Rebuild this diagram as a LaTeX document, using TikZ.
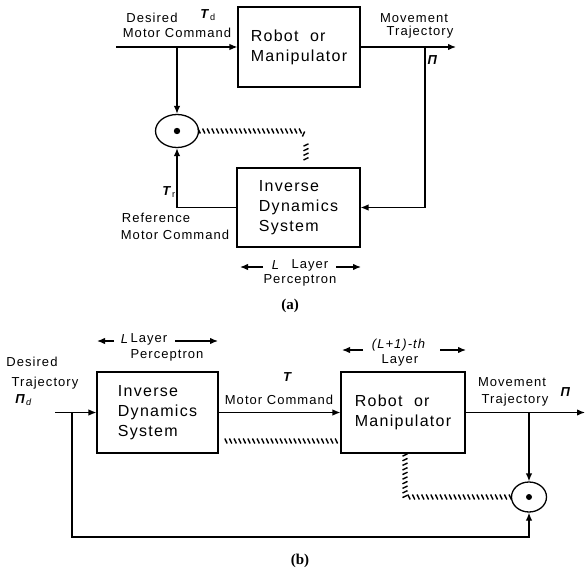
\documentclass[tikz,border=0pt]{standalone}
\usepackage{fontspec}
\setmainfont[LetterSpace=8]{Liberation Sans}
\newfontfamily\capfont{Liberation Serif}
\usetikzlibrary{arrows.meta,decorations.markings,shapes.geometric}
\begin{document}
\begin{tikzpicture}[x=1pt,y=-1pt,
  box/.style={draw, line width=1.1pt, inner sep=0pt, align=left, font=\fontsize{16}{20}\selectfont},
  sum/.style={draw, ellipse, line width=1.3pt, inner sep=0pt},
  lbl/.style={inner sep=0pt, font=\fontsize{13}{15}\selectfont},
  conn/.style={line width=1.3pt},
  arr/.style={conn, -{Latex[length=8pt,width=6.5pt]}},
  hatch/.style={postaction={decorate}, decoration={markings,
     mark=between positions 0 and 1 step 4.6pt with {\draw[line width=1.4pt] (1.2pt,-2.5pt) -- (-1.2pt,2.5pt);}}},
  captxt/.style={inner sep=0pt, font=\capfont\bfseries\fontsize{15}{17}\selectfont}
]
\useasboundingbox (0,0) rectangle (586,572);

% ---------- (a) ----------
\node[box, minimum width=122pt, minimum height=80pt] (ra) at (299,47) {Robot\ \ or\\Manipulator};
\node[box, minimum width=123pt, minimum height=79pt] (ia) at (298.5,207.5) {Inverse\\Dynamics\\System};
\node[sum, minimum width=43pt, minimum height=33pt] (ea) at (177,131) {};
\fill (ea.center) circle (3.2pt);

\coordinate (ina) at (116,47);
\coordinate (outa) at (456,47);
\coordinate (ja) at (177,47);
\coordinate (ka) at (425,47);
\draw[arr] (ina) -- (ra.west);
\draw[arr] (ra.east) -- (outa);
\draw[arr] (ja) -- (ea.north);
\draw[arr] (ka) |- (ia.east);
\draw[arr] (ia.west) -| (ea.south);

\coordinate (ha1) at (301,131);
\coordinate (ha2) at (306,137);
\coordinate (ha3) at (306,145);
\coordinate (ha4) at (306,160);
\path[hatch] (ea.east) -- (ha1) -- (ha2);
\path[hatch] (ha3) -- (ha4);

\node[lbl] (d1) at (152,18) {Desired};
\node[lbl] (d2) at (177,33) {Motor Command};
\node[lbl] (td) at (208,15) {\textbf{\textit{T}}\textsubscript{d}};
\node[lbl] (m1) at (414,18) {Movement};
\node[lbl] (m2) at (420,32) {Trajectory};
\node[lbl] (pa) at (433,60) {\textbf{\textit{Π}}};
\node[lbl] (tr) at (169,192) {\textbf{\textit{T}}\textsubscript{r}};
\node[lbl] (r1) at (156,218) {Reference};
\node[lbl] (r2) at (175,235) {Motor Command};

\coordinate (la1) at (263,267);
\coordinate (la2) at (240,267);
\coordinate (la3) at (336,267);
\coordinate (la4) at (361,267);
\draw[arr] (la1) -- (la2);
\draw[arr] (la3) -- (la4);
\node[lbl] (lal) at (276,265) {\textit{L}};
\node[lbl] (lay) at (310,265) {Layer};
\node[lbl] (per) at (300,280) {Perceptron};
\node[captxt] (capa) at (290,306) {(a)};

% ---------- (b) ----------
\node[box, minimum width=121pt, minimum height=81pt] (ib) at (157.5,412.5) {Inverse\\Dynamics\\System};
\node[box, minimum width=124pt, minimum height=81pt] (rb) at (403,412.5) {Robot\ \ or\\Manipulator};
\node[sum, minimum width=35pt, minimum height=30pt] (eb) at (529,497) {};
\fill (eb.center) circle (3pt);

\coordinate (inb) at (55,412.5);
\coordinate (jb) at (72,412.5);
\coordinate (outb) at (585,412.5);
\coordinate (kb) at (529,412.5);
\coordinate (bb) at (72,537);
\draw[arr] (inb) -- (ib.west);
\draw[arr] (ib.east) -- (rb.west);
\draw[arr] (rb.east) -- (outb);
\draw[arr] (kb) -- (eb.north);
\draw[arr] (jb) -- (bb) -| (eb.south);

\coordinate (hb1) at (226,441);
\coordinate (hb3) at (405,455);
\coordinate (hb4) at (405,497);
\path[hatch] (hb1) -- (hb1 -| rb.west);
\path[hatch] (hb3) -- (hb4) -- (eb.west);

\node[lbl] (lbl1) at (125,339) {\textit{L}};
\node[lbl] (lby) at (149,339) {Layer};
\coordinate (lb1) at (114,341);
\coordinate (lb2) at (97,341);
\coordinate (lb3) at (175,341);
\coordinate (lb4) at (218,341);
\draw[arr] (lb1) -- (lb2);
\draw[arr] (lb3) -- (lb4);
\node[lbl] (pbr) at (167,355) {Perceptron};

\node[lbl] (db1) at (32,362) {Desired};
\node[lbl] (db2) at (45,383) {Trajectory};
\node[lbl] (pd) at (24,400) {\textbf{\textit{Π}}\textsubscript{\textit{d}}};

\node[lbl] (tb) at (288,377) {\textbf{\textit{T}}};
\node[lbl] (mcb) at (279,400) {Motor Command};

\node[lbl] (l1th) at (399,345) {\textit{(L+1)-th}};
\node[lbl] (l1y) at (400,360) {Layer};
\coordinate (lc1) at (363,350);
\coordinate (lc2) at (342,350);
\coordinate (lc3) at (440,350);
\coordinate (lc4) at (466,350);
\draw[arr] (lc1) -- (lc2);
\draw[arr] (lc3) -- (lc4);

\node[lbl] (mb1) at (512,382) {Movement};
\node[lbl] (mb2) at (515,400) {Trajectory};
\node[lbl] (pb) at (566,392) {\textbf{\textit{Π}}};

\node[captxt] (capb) at (300,561) {(b)};
\end{tikzpicture}
\end{document}
